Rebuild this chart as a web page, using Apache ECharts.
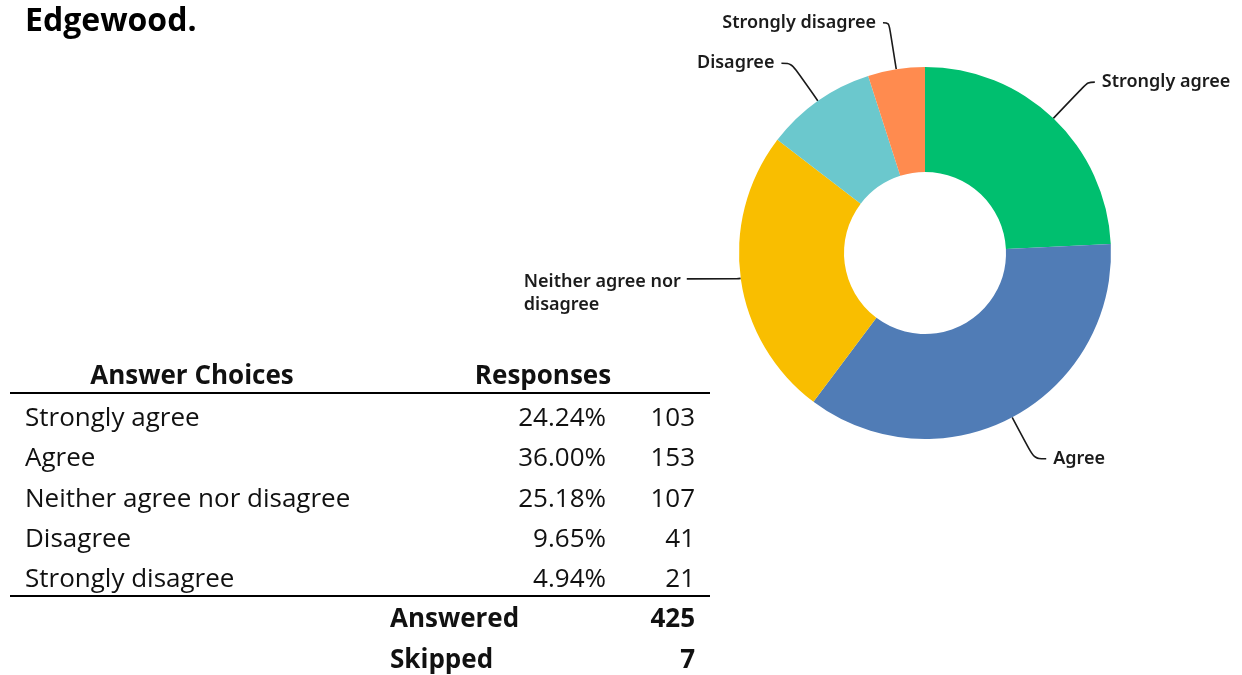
<!DOCTYPE html>
<html>
<head>
<meta charset="utf-8">
<title>Edgewood.</title>
<script src="https://cdn.jsdelivr.net/npm/echarts@6/dist/echarts.min.js"></script>
<style>
  html, body { margin: 0; padding: 0; background: #ffffff; }
  #chart { width: 1242px; height: 675px; }
</style>
</head>
<body>
<div id="chart"></div>
<script>
// Survey answers for Edgewood
const categories = ['Strongly agree', 'Agree', 'Neither agree nor disagree', 'Disagree', 'Strongly disagree'];
const sliceLabels = ['Strongly agree', 'Agree', 'Neither agree nor\ndisagree', 'Disagree', 'Strongly disagree'];
const percents = ['24.24%', '36.00%', '25.18%', '9.65%', '4.94%'];
const counts = [103, 153, 107, 41, 21];
const answered = 425;
const skipped = 7;
const headers = ['Answer Choices', 'Responses'];
const footerLabels = ['Answered', 'Skipped'];

const sliceColors = ['#00BF6F', '#507CB6', '#F9BE00', '#6BC8CD', '#FF8B4F'];
// leader line lengths per slice [radial, horizontal]
const leader = [[50, 7], [47, 12], [4, 50], [46, 10], [47, 6]];

const tableFont = '"Open Sans", "Noto Sans", sans-serif';
const labelFont = '"Noto Sans", "Open Sans", sans-serif';

const chart = echarts.init(document.getElementById('chart'), null, { renderer: 'canvas' });

const pieData = categories.map((c, i) => {
  const item = {
    name: sliceLabels[i],
    value: counts[i],
    itemStyle: { color: sliceColors[i] },
    labelLine: { length: leader[i][0], length2: leader[i][1] }
  };
  if (sliceLabels[i].indexOf('\n') >= 0) {
    // two-line label, lines left-aligned to each other
    item.label = {
      formatter: p => p.name.split('\n').map(s => '{t|' + s + '}').join('\n'),
      padding: [29, 0, 0, 0],
      rich: { t: { width: 156, align: 'left', fontSize: 18, fontWeight: 600, fontFamily: labelFont, color: '#1b1b1b', lineHeight: 23 } }
    };
  }
  return item;
});

// table drawn as graphic text and rules
const g = [];
const tx = (text, x, y, align, bold) => ({
  type: 'text', x: x, y: y,
  style: {
    text: String(text), fill: '#111', font: (bold ? '700 ' : '400 ') + '26px ' + tableFont,
    textAlign: align, textVerticalAlign: 'middle'
  }
});
g.push(tx(headers[0], 192, 377, 'center', true));
g.push(tx(headers[1], 543, 377, 'center', true));
g.push({ type: 'line', shape: { x1: 10, y1: 393, x2: 710, y2: 393 }, style: { stroke: '#000', lineWidth: 2 } });
const rowTop = 418.5, rowStep = 40.3;
categories.forEach((c, i) => {
  const y = rowTop + i * rowStep;
  g.push(tx(c, 25, y, 'left', false));
  g.push(tx(percents[i], 606, y, 'right', false));
  g.push(tx(counts[i], 695, y, 'right', false));
});
g.push({ type: 'line', shape: { x1: 10, y1: 596, x2: 710, y2: 596 }, style: { stroke: '#000', lineWidth: 2 } });
[answered, skipped].forEach((v, i) => {
  const y = 619.5 + i * 41;
  g.push(tx(footerLabels[i], 390, y, 'left', true));
  g.push(tx(v, 695, y, 'right', true));
});

chart.setOption({
  backgroundColor: '#ffffff',
  animation: false,
  title: {
    text: 'Edgewood.',
    left: 20, top: 1,
    textStyle: { fontFamily: tableFont, fontSize: 32, fontWeight: 700, color: '#000' }
  },
  series: [{
    type: 'pie',
    center: [925, 253],
    radius: [81, 186],
    startAngle: 90,
    clockwise: true,
    avoidLabelOverlap: false,
    label: {
      show: true,
      position: 'outside',
      fontFamily: labelFont,
      fontSize: 18,
      fontWeight: 600,
      color: '#1b1b1b',
      distanceToLabelLine: 7
    },
    labelLine: {
      show: true,
      smooth: 0.35,
      lineStyle: { color: '#1a1a1a', width: 1.6 }
    },
    emphasis: { disabled: true },
    data: pieData
  }],
  graphic: g
});
</script>
</body>
</html>
